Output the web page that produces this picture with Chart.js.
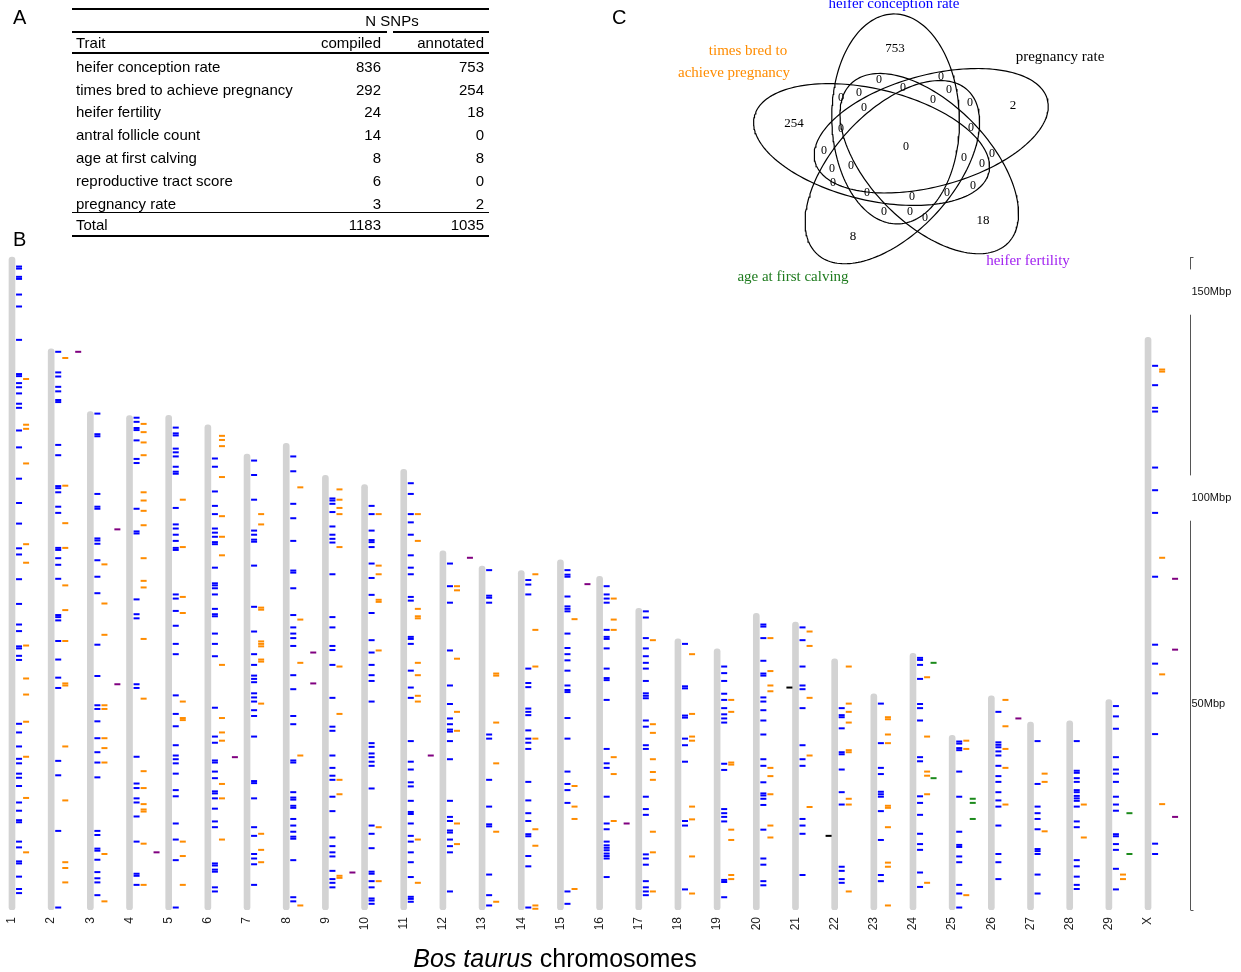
<!DOCTYPE html>
<html>
<head>
<meta charset="utf-8">
<script src="https://cdn.jsdelivr.net/npm/chart.js@4.4.1/dist/chart.umd.min.js"></script>
<style>
  html, body { margin: 0; padding: 0; background: #fff; }
  #page { position: relative; width: 1241px; height: 972px; overflow: hidden; font-family: "Liberation Sans", Arial, sans-serif; color: #000; }
  #snpChart { position: absolute; left: 0; top: 0; }
  #vennChart { position: absolute; left: 600px; top: 0; }
  .panel { position: absolute; font-size: 20px; line-height: 20px; }
  .cell { position: absolute; font-size: 15px; line-height: 18px; white-space: nowrap; transform: translateY(-50%); }
  .rule { position: absolute; background: #000; }
  #xtitle { position: absolute; left: 0; width: 1110px; text-align: center; top: 943px; font-size: 25px; line-height: 30px; }
</style>
</head>
<body>
<div id="page">
  <canvas id="snpChart" width="1241" height="972"></canvas>
  <canvas id="vennChart" width="640" height="290"></canvas>
  <div id="table"></div>
  <div class="panel" style="left:13px;top:7px">A</div>
  <div class="panel" style="left:13px;top:229px">B</div>
  <div class="panel" style="left:612px;top:7px">C</div>
  <div id="xtitle"><i>Bos taurus</i> chromosomes</div>
</div>
<script>
// ---- panel A table ----
const traits = ['heifer conception rate', 'times bred to achieve pregnancy', 'heifer fertility',
  'antral follicle count', 'age at first calving', 'reproductive tract score', 'pregnancy rate'];
const compiled = [836, 292, 24, 14, 8, 6, 3];
const annotated = [753, 254, 18, 0, 8, 0, 2];

// ---- panel B chromosomes ----
const chromosomes = ['1','2','3','4','5','6','7','8','9','10','11','12','13','14','15','16','17','18','19','20',
  '21','22','23','24','25','26','27','28','29','X'];
const chromLengths = [158.5, 136.2, 121.0, 120.0, 120.1, 117.8, 110.7, 113.3, 105.5, 103.3, 107.0, 87.2, 83.5,
  82.4, 85.0, 81.0, 73.2, 65.8, 63.4, 72.0, 69.9, 61.0, 52.5, 62.3, 42.4, 52.0, 45.6, 45.9, 51.1, 139.0];

// heifer conception rate SNP positions (Mbp), one list per chromosome
const conceptionMbp = [
  [156.2,155.7,153.7,153.2,149.4,146.5,138.4,130.1,129.6,127.9,126.9,125.4,122.9,121.9,116.4,112.3,104.7,98.8,93.8,87.8,86.3,80.3,74.3,69.3,67.7,64.0,63.5,61.7,60.7,45.2,43.1,39.7,36.7,35.6,33.1,32.1,30.1,26.1,24.1,21.8,21.3,16.6,15.2,11.8,11.3,8.1,5.1,4.1],
  [135.5,130.5,129.5,127.0,125.9,123.8,123.3,112.9,110.4,102.9,102.4,101.4,97.9,96.4,87.9,87.4,85.4,83.8,80.4,71.6,71.1,70.3,65.3,60.8,56.4,53.9,36.2,32.7,19.2,0.6],
  [120.5,115.5,115.0,101.0,97.9,97.4,90.2,89.7,88.9,84.9,80.9,76.9,64.4,56.8,49.7,48.8,45.8,41.7,38.3,35.8,32.2,19.2,18.2,14.9,14.4,12.2,9.2,7.7,6.7,3.6],
  [119.5,118.5,117.0,116.5,114.0,109.5,108.5,97.4,91.9,91.4,75.4,71.8,70.8,54.8,53.9,37.2,30.7,29.6,27.1,26.1,22.7,16.6,8.8,8.3,6.1],
  [117.1,115.7,115.2,112.0,111.1,110.1,107.6,106.4,105.9,97.6,93.6,92.6,91.1,89.6,87.9,87.4,76.6,75.6,72.6,69.0,64.6,62.1,52.1,47.6,44.6,40.0,37.5,36.6,35.6,33.1,29.1,27.6,21.0,17.1,12.1,0.6],
  [109.6,107.6,101.6,98.1,96.1,92.6,91.6,90.6,89.3,88.8,83.1,79.3,78.8,78.1,76.6,73.1,71.8,71.3,67.1,64.6,61.6,49.1,42.1,40.6,36.3,35.8,33.6,32.0,28.8,28.3,27.1,24.6,21.5,20.1,11.3,10.8,9.8,9.3,5.5,4.5],
  [109.1,105.6,99.6,92.1,91.1,89.9,89.4,83.6,73.6,67.6,62.1,59.5,56.9,56.1,55.3,52.6,51.6,50.6,48.5,47.1,42.1,31.3,30.8,27.1,20.1,18.0,13.6,12.5,11.1,6.1],
  [110.1,106.5,98.6,95.1,89.6,82.4,81.9,78.1,71.6,68.6,67.1,66.0,64.1,57.0,53.6,47.1,45.1,36.3,35.8,28.6,27.3,26.8,25.3,24.8,22.1,20.5,19.0,17.8,17.3,12.1,3.1,2.1],
  [99.9,99.4,98.6,96.6,93.1,91.1,90.1,89.2,81.5,71.1,68.6,64.1,63.1,59.5,51.5,44.5,43.5,37.5,34.5,32.6,31.6,27.5,24.0,17.6,15.5,14.0,13.0,9.5,7.5,6.6,5.5],
  [98.1,96.1,92.1,89.8,89.3,88.1,84.1,80.6,76.5,72.1,65.5,62.5,59.5,57.0,55.6,50.6,40.5,39.6,38.0,37.1,36.0,35.0,29.5,20.5,18.5,15.0,9.3,8.8,7.0,5.5,2.8,2.3,1.5],
  [103.6,101.0,96.1,94.1,91.1,86.1,83.1,81.5,76.0,75.1,66.3,65.8,64.6,58.1,54.0,51.5,41.0,36.0,34.1,31.0,30.0,26.5,23.8,23.3,21.0,18.0,16.6,14.0,11.6,8.0,3.2,2.7,2.0],
  [84.1,78.6,74.6,63.0,54.5,50.0,46.5,45.1,43.8,43.3,41.0,36.6,26.5,22.6,21.6,19.3,18.8,17.1,15.5,14.0,4.5],
  [82.5,76.3,75.8,74.6,42.6,41.6,31.6,25.1,20.8,20.3,8.6,3.6,1.1],
  [80.1,79.0,76.6,58.6,55.1,54.1,48.9,48.1,47.3,43.6,41.6,40.6,39.1,31.1,26.6,23.5,21.6,18.4,17.9,13.1,10.6,0.6],
  [82.5,81.4,80.9,76.1,73.7,73.1,72.5,67.1,63.6,62.1,60.6,58.1,54.5,53.4,52.9,46.6,41.6,33.6,30.6,29.1,26.0,4.5,1.5],
  [78.6,76.6,75.6,74.6,68.0,66.3,65.8,63.5,58.6,56.3,55.8,51.0,39.1,35.6,34.5,27.5,21.0,19.6,16.6,15.7,15.1,14.5,13.7,13.1,12.5,8.0],
  [72.5,71.0,66.0,63.5,61.6,60.0,58.6,55.6,52.6,52.0,51.4,46.0,44.5,40.0,39.1,27.5,24.5,23.1,13.5,12.5,11.0,7.0,5.5,4.5,3.6],
  [64.6,54.3,53.8,47.2,46.7,41.6,40.0,36.0,21.6,20.5,5.0],
  [59.1,57.5,55.6,52.5,51.0,49.0,47.5,46.5,45.5,35.5,34.0,24.5,23.5,22.6,21.5,7.3,6.8,3.1],
  [69.3,68.8,66.0,60.5,57.4,56.9,51.6,50.6,48.5,46.0,42.6,36.6,35.0,31.0,28.3,27.8,27.0,25.5,19.5,12.5,11.0,7.0,6.0],
  [68.6,65.5,59.1,54.5,53.6,49.0,40.0,36.6,35.0,22.1,20.5,18.5,8.5],
  [49.0,47.3,46.8,44.1,38.3,37.8,34.1,28.6,25.6,10.5,9.5,7.5,6.6],
  [50.1,40.5,34.5,33.0,28.7,28.1,27.5,24.0,17.0,8.5,7.0],
  [61.2,60.7,59.5,56.1,50.0,49.0,46.0,37.1,36.1,27.6,26.0,23.1,18.5,16.0,14.6,9.1,5.6],
  [40.9,40.4,39.3,38.8,33.6,27.5,19.0,15.8,15.3,13.0,11.6,6.1,4.0,0.6],
  [48.1,40.7,40.1,39.5,38.5,37.5,35.0,32.5,31.1,28.6,26.6,25.1,20.5,13.6,11.6,7.5],
  [41.0,30.6,25.1,23.5,22.1,19.6,14.8,14.3,13.6,8.6,4.0],
  [41.0,33.8,33.3,32.0,31.1,29.1,28.6,27.7,27.1,26.5,25.1,21.5,20.1,12.1,10.6,8.1,6.1,5.1],
  [49.5,47.0,44.0,37.1,34.1,33.1,31.1,27.5,25.6,24.1,18.4,17.9,16.0,14.6,10.0,5.0],
  [132.1,127.4,121.9,121.0,107.4,101.9,96.4,80.9,64.4,59.8,52.6,42.7,16.1,13.6]
];

// times bred to achieve pregnancy SNP positions (Mbp)
const timesBredMbp = [
  [128.9,117.8,116.8,108.4,88.8,84.3,64.2,56.2,52.3,45.7,37.2,27.2,14.0],
  [134.0,103.0,93.9,87.9,78.8,72.8,65.3,55.0,54.5,39.7,26.6,11.6,10.2,6.7],
  [83.9,74.4,66.8,49.7,48.8,41.7,39.3,35.8,13.6,2.1],
  [118.0,116.0,113.5,110.4,101.4,99.4,96.9,93.4,85.4,79.9,78.3,65.8,51.3,33.7,29.6,25.7,24.4,23.9,16.1,6.1],
  [99.6,88.1,76.0,72.1,50.6,46.6,46.1,16.6,13.1,6.1],
  [115.1,114.1,112.6,105.1,95.6,90.6,86.1,59.5,46.6,43.1,41.1,30.6,27.1,17.1],
  [96.1,93.6,73.4,72.9,65.2,64.6,64.0,60.8,60.3,50.1,18.5,14.6,11.6],
  [102.6,70.5,60.0,37.5,1.1],
  [102.1,99.6,97.6,96.1,88.1,59.1,47.6,31.6,28.1,8.3,7.8],
  [96.1,83.6,81.5,75.3,74.8,63.0,20.1,7.0],
  [96.1,89.6,73.1,71.3,70.8,60.0,57.0,52.0,50.6,17.1,6.6],
  [78.6,77.6,61.0,48.1,43.5,21.0,16.0],
  [57.4,56.9,45.5,35.6,19.0,2.0],
  [81.5,68.0,59.1,41.6,19.6,15.6,1.1,0.3],
  [70.6,30.1,25.1,22.1,5.1],
  [75.6,70.5,68.0,37.1,33.0,21.6],
  [65.5,45.1,43.0,36.6,33.5,31.6,19.0,14.0,4.5],
  [62.1,47.6,42.1,41.1,25.1,22.0,13.0,4.0],
  [51.0,48.1,35.8,35.3,19.5,17.0,8.5,7.5],
  [66.0,58.0,54.5,53.1,34.5,32.5,28.1,20.5,17.6],
  [67.6,64.1,51.5,37.5,25.0],
  [59.1,50.1,48.1,45.5,38.8,38.3,27.0,25.6,4.5],
  [46.8,46.3,42.6,40.5,25.3,24.8,20.1,11.5,10.5,1.1],
  [56.5,42.1,33.6,32.6,28.1,6.6],
  [41.1,39.1,3.6],
  [51.0,44.6,39.1,34.5,25.6],
  [33.1,31.1,19.1],
  [25.6,17.6],
  [8.6,7.5],
  [131.2,130.7,85.5,57.2,25.7]
];

// sparse traits: chromosome + position pairs
const fertilityChr = ['2','3','3','4','6','8','8','9','11','12','15','16','26','X','X','X'];
const fertilityMbp = [135.5, 92.4, 54.8, 14.0, 37.1, 62.5, 55.0, 9.1, 37.5, 85.5, 79.1, 21.0, 46.5, 80.4, 63.2, 22.6];
const calvingChr = ['24','24','25','25','25','29','29'];
const calvingMbp = [60.0, 32.0, 27.0, 26.0, 22.1, 23.5, 13.6];
const pregRateChr = ['21','22'];
const pregRateMbp = [54.0, 18.0];

const scaleTicks = [50, 100, 150];

// ---- panel C venn ----
const vennSets = ['heifer conception rate', 'pregnancy rate', 'heifer fertility', 'age at first calving', 'times bred to achieve pregnancy'];
const vennOnly = [753, 2, 18, 8, 254];
const vennShared = [0,0,0,0,0,0,0,0,0,0,0,0,0,0,0,0,0,0,0,0,0,0,0,0,0,0];

// ================= table =================
const tbl = document.getElementById('table');
function addCell(text, x, y, align) {
  const d = document.createElement('div');
  d.className = 'cell';
  d.textContent = text;
  if (align === 'right') { d.style.right = (1241 - x) + 'px'; d.style.textAlign = 'right'; }
  else if (align === 'center') { d.style.left = (x - 60) + 'px'; d.style.width = '120px'; d.style.textAlign = 'center'; }
  else d.style.left = x + 'px';
  d.style.top = y + 'px';
  tbl.appendChild(d);
}
function addRule(x, y, w, h) {
  const d = document.createElement('div');
  d.className = 'rule';
  d.style.left = x + 'px'; d.style.top = y + 'px';
  d.style.width = w + 'px'; d.style.height = h + 'px';
  tbl.appendChild(d);
}
addRule(72, 8, 417, 2);
addCell('N SNPs', 392, 21, 'center');
addRule(72, 31, 315, 1.5);
addRule(393, 31, 96, 1.5);
addCell('Trait', 76, 43);
addCell('compiled', 381, 43, 'right');
addCell('annotated', 484, 43, 'right');
addRule(72, 52, 417, 1.5);
traits.forEach((t, i) => {
  const y = 66.7 + i * 22.8;
  addCell(t, 76, y);
  addCell(String(compiled[i]), 381, y, 'right');
  addCell(String(annotated[i]), 484, y, 'right');
});
addRule(72, 211.5, 417, 1.5);
addCell('Total', 76, 224.5);
addCell(String(compiled.reduce((a, b) => a + b, 0)), 381, 224.5, 'right');
addCell(String(annotated.reduce((a, b) => a + b, 0)), 484, 224.5, 'right');
addRule(72, 234.5, 417, 2);

// ================= chromosome chart =================
function listPoints(lists, off) {
  const pts = [];
  lists.forEach((vals, i) => vals.forEach(v => pts.push({ x: i + off, y: v })));
  return pts;
}
function pairPoints(chrs, vals, off) {
  return chrs.map((c, k) => ({ x: chromosomes.indexOf(c) + off, y: vals[k] }));
}
function markSet(label, data, color) {
  return {
    type: 'scatter', label, data,
    pointStyle: 'line', pointRadius: 3, pointHoverRadius: 3,
    borderColor: color, backgroundColor: color, pointBorderWidth: 2, borderWidth: 2
  };
}

const scaleBar = {
  id: 'scaleBar',
  afterDraw(chart) {
    const { ctx, chartArea, scales: { y } } = chart;
    const x = Math.round(chartArea.right) + 0.5;
    const topVal = chromLengths[0];
    const gaps = scaleTicks.filter(v => v >= 100).map(v => [v - 5.5, v + 5.5]);
    let segs = [[0, topVal]];
    gaps.forEach(([a, b]) => {
      segs = segs.flatMap(([s, e]) => (b <= s || a >= e) ? [[s, e]] : [[s, a], [b, e]].filter(p => p[1] > p[0]));
    });
    ctx.save();
    ctx.strokeStyle = '#555';
    ctx.lineWidth = 1;
    ctx.beginPath();
    segs.forEach(([s, e]) => {
      ctx.moveTo(x, y.getPixelForValue(s));
      ctx.lineTo(x, y.getPixelForValue(e));
    });
    [0, topVal].forEach(v => {
      const py = Math.round(y.getPixelForValue(v)) + 0.5;
      ctx.moveTo(x, py); ctx.lineTo(x + 3, py);
    });
    ctx.stroke();
    ctx.fillStyle = '#111';
    ctx.font = '11px "Liberation Sans", Arial, sans-serif';
    ctx.textBaseline = 'middle';
    ctx.textAlign = 'left';
    scaleTicks.forEach(v => ctx.fillText(v + 'Mbp', x + 1, y.getPixelForValue(v)));
    ctx.restore();
  }
};

new Chart(document.getElementById('snpChart'), {
  type: 'scatter',
  data: {
    datasets: [
      markSet('heifer conception rate', listPoints(conceptionMbp, 0.18), '#0000ff'),
      markSet('times bred to achieve pregnancy', listPoints(timesBredMbp, 0.36), '#ff8c00'),
      markSet('age at first calving', pairPoints(calvingChr, calvingMbp, 0.525), '#1b8a1b'),
      markSet('heifer fertility', pairPoints(fertilityChr, fertilityMbp, 0.69), '#800080'),
      markSet('pregnancy rate', pairPoints(pregRateChr, pregRateMbp, -0.155), '#000000'),
      {
        type: 'bar', label: 'chromosome',
        data: chromLengths.map((len, i) => ({ x: i, y: [0, len] })),
        backgroundColor: '#d3d3d3', barThickness: 6, borderRadius: 3, borderSkipped: false
      }
    ]
  },
  options: {
    responsive: false, animation: false, devicePixelRatio: 1,
    layout: { padding: { top: 255, right: 51, left: 0, bottom: 0 } },
    plugins: { legend: { display: false }, tooltip: { enabled: false } },
    scales: {
      x: {
        type: 'linear', min: -0.1785, max: 30.071, offset: false,
        grid: { display: false, drawTicks: false }, border: { display: false },
        afterBuildTicks: s => { s.ticks = chromosomes.map((c, i) => ({ value: i })); },
        afterFit: s => { s.height = 62; },
        ticks: {
          autoSkip: false, maxRotation: 90, minRotation: 90, padding: 7, color: '#222',
          font: { size: 12, family: '"Liberation Sans", Arial, sans-serif' },
          callback: v => chromosomes[v]
        }
      },
      y: { type: 'linear', min: 0, max: 159, display: false }
    }
  },
  plugins: [scaleBar]
});

// ================= venn chart =================
// five congruent ellipses rotated by 72 deg, stretched horizontally
const vC = [904, 146], vDist = 28, vA = 105, vB = 55, vStretch = 1.16;
function ellipsePts(k) {
  const psi = (-15 + 72 * k) * Math.PI / 180;
  const phi = (-1 + 72 * k) * Math.PI / 180;
  const cx = vC[0] + vDist * Math.sin(psi), cy = vC[1] - vDist * Math.cos(psi);
  const u = [Math.sin(phi), -Math.cos(phi)], w = [Math.cos(phi), Math.sin(phi)];
  const pts = [];
  for (let s = 0; s <= 180; s++) {
    const t = s / 180 * 2 * Math.PI;
    const px = cx + vA * Math.cos(t) * u[0] + vB * Math.sin(t) * w[0];
    const py = cy + vA * Math.cos(t) * u[1] + vB * Math.sin(t) * w[1];
    pts.push({ x: vC[0] + (px - vC[0]) * vStretch, y: py });
  }
  return pts;
}

const setLabelPos = [[[894, 4]], [[1060, 57]], [[1028, 261]], [[793, 277]], [[748, 51], [734, 73]]];
const setLabelLines = [['heifer conception rate'], ['pregnancy rate'], ['heifer fertility'], ['age at first calving'], ['times bred to', 'achieve pregnancy']];
const setColors = ['#0000ff', '#000000', '#a020f0', '#1e7b1e', '#ff8c00'];
const onlyPos = [[895, 49], [1013, 106], [983, 221], [853, 237], [794, 124]];
const sharedPos = [[906,147],[879,80],[941,77],[903,88],[949,90],[859,93],[841,98],[933,100],[970,103],[864,108],
  [841,129],[971,128],[824,151],[992,154],[964,158],[851,166],[832,169],[982,164],[833,183],[973,186],
  [867,193],[912,197],[947,193],[884,212],[910,212],[925,218]];

const vennText = {
  id: 'vennText',
  afterDraw(chart) {
    const { ctx, scales: { x, y } } = chart;
    ctx.save();
    ctx.textAlign = 'center';
    ctx.textBaseline = 'middle';
    ctx.font = '15px "Liberation Serif", "Times New Roman", serif';
    setLabelLines.forEach((lines, k) => {
      ctx.fillStyle = setColors[k];
      lines.forEach((ln, j) => ctx.fillText(ln, x.getPixelForValue(setLabelPos[k][j][0]), y.getPixelForValue(setLabelPos[k][j][1])));
    });
    ctx.fillStyle = '#000';
    ctx.font = '13px "Liberation Serif", "Times New Roman", serif';
    vennOnly.forEach((n, k) => ctx.fillText(String(n), x.getPixelForValue(onlyPos[k][0]), y.getPixelForValue(onlyPos[k][1])));
    ctx.font = '12px "Liberation Serif", "Times New Roman", serif';
    vennShared.forEach((n, k) => ctx.fillText(String(n), x.getPixelForValue(sharedPos[k][0]), y.getPixelForValue(sharedPos[k][1])));
    ctx.restore();
  }
};

new Chart(document.getElementById('vennChart'), {
  type: 'scatter',
  data: {
    datasets: vennSets.map((name, k) => ({
      label: name, data: ellipsePts(k), showLine: true, pointRadius: 0, pointHoverRadius: 0,
      borderColor: '#000', borderWidth: 1.2, fill: false, tension: 0
    }))
  },
  options: {
    responsive: false, animation: false, devicePixelRatio: 1,
    layout: { padding: 0 },
    plugins: { legend: { display: false }, tooltip: { enabled: false } },
    scales: {
      x: { type: 'linear', display: false, min: 600, max: 1240 },
      y: { type: 'linear', display: false, min: 0, max: 290, reverse: true }
    }
  },
  plugins: [vennText]
});
</script>
</body>
</html>
